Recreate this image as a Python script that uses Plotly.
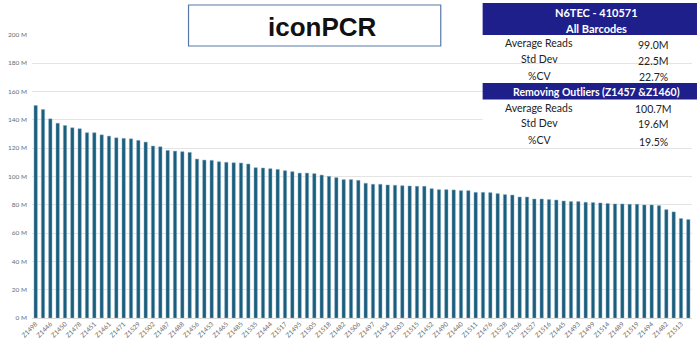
import plotly.graph_objects as go

# ---- data ----
read_counts_m = [
    150.0, 147.2, 140.6, 137.5, 135.9, 134.3, 133.6, 130.8, 130.8, 129.3, 128.4,
    127.2, 126.8, 126.5, 125.4, 124.2, 121.4, 120.9, 118.3, 117.8, 117.4, 116.9,
    112.2, 111.5, 111.3, 110.3, 109.9, 109.6, 109.4, 108.7, 106.1, 105.9, 105.4,
    104.9, 104.0, 103.3, 102.3, 102.3, 101.9, 100.9, 100.0, 99.1, 97.7, 97.7, 97.2,
    95.1, 94.4, 94.4, 93.9, 93.7, 93.4, 93.2, 93.0, 93.0, 91.3, 90.6,
    90.6, 90.4, 89.9, 89.9, 88.7, 88.7, 88.5, 87.8, 87.1, 86.8, 85.4,
    85.4, 84.0, 84.0, 83.6, 83.3, 82.6, 82.2, 82.2, 81.7, 81.5, 81.2, 80.8,
    80.5, 80.5, 80.3, 80.3, 79.8, 79.8, 79.3, 76.5, 74.9, 70.2, 69.5,
]
bar_index = list(range(len(read_counts_m)))

# every other bar is labelled in the reference
tick_labels = [
    "Z1498", "Z1446", "Z1450", "Z1478", "Z1451", "Z1461", "Z1471", "Z1529",
    "Z1502", "Z1487", "Z1488", "Z1456", "Z1453", "Z1465", "Z1485", "Z1535",
    "Z1444", "Z1517", "Z1495", "Z1505", "Z1518", "Z1482", "Z1506", "Z1497",
    "Z1454", "Z1503", "Z1515", "Z1452", "Z1490", "Z1440", "Z1511", "Z1476",
    "Z1528", "Z1536", "Z1527", "Z1516", "Z1445", "Z1493", "Z1499", "Z1514",
    "Z1489", "Z1519", "Z1494", "Z1482", "Z1513",
]
tick_positions = bar_index[::2]

y_ticks = [0, 20, 40, 60, 80, 100, 120, 140, 160, 180, 200]

title_text = "iconPCR"
header1 = ["N6TEC - 410571", "All Barcodes"]
header2 = "Removing Outliers (Z1457 &Z1460)"
stat_names = ["Average Reads", "Std Dev", "%CV"]
stats_all = ["99.0M", "22.5M", "22.7%"]
stats_trim = ["100.7M", "19.6M", "19.5%"]

# ---- layout geometry (pixels) ----
W, H = 700, 354
ML, MR, MT, MB = 30, 8, 34, 36
PW, PH = W - ML - MR, H - MT - MB


def px(x):
    return (x - ML) / PW


def py(y):
    return (H - MB - y) / PH


fig = go.Figure()
fig.add_trace(go.Bar(
    x=bar_index, y=read_counts_m,
    marker=dict(color="#1b5d7d", line=dict(color="#7fa9bf", width=0.5)),
    hoverinfo="y",
))

shapes = []
annotations = []

# title box
shapes.append(dict(type="rect", xref="paper", yref="paper",
                   x0=px(187), x1=px(440), y0=py(46), y1=py(5),
                   line=dict(color="#5878a8", width=1.2), fillcolor="white", layer="above"))
annotations.append(dict(xref="paper", yref="paper", x=px(321), y=py(27),
                        text=f"<b>{title_text}</b>", showarrow=False,
                        font=dict(family="Liberation Sans, Arial", size=26, color="#111111"),
                        xanchor="center", yanchor="middle"))

# table: hide 140M grid line behind table body
shapes.append(dict(type="rect", xref="paper", yref="paper",
                   x0=px(482), x1=px(697), y0=py(140), y1=py(100),
                   line=dict(width=0), fillcolor="white", layer="above"))
navy = "#1f1f8c"
shapes.append(dict(type="rect", xref="paper", yref="paper",
                   x0=px(482), x1=px(697), y0=py(35), y1=py(3),
                   line=dict(width=0), fillcolor=navy, layer="above"))
shapes.append(dict(type="rect", xref="paper", yref="paper",
                   x0=px(482), x1=px(697), y0=py(99.5), y1=py(83),
                   line=dict(width=0), fillcolor=navy, layer="above"))

hfont = dict(family="Lato, Noto Sans, sans-serif", size=11, color="white")
for txt, yy in zip(header1, [12.5, 28.5]):
    annotations.append(dict(xref="paper", yref="paper", x=px(596), y=py(yy),
                            text=f"<b>{txt}</b>", showarrow=False, font=hfont,
                            xanchor="center", yanchor="middle"))
annotations.append(dict(xref="paper", yref="paper", x=px(596), y=py(91.5),
                        text=f"<b>{header2}</b>", showarrow=False,
                        font=dict(family="Lato, Noto Sans, sans-serif", size=10.5, color="white"),
                        xanchor="center", yanchor="middle"))

rfont = dict(family="Lato, Noto Sans, sans-serif", size=10.5, color="#222222")
for name, a, b, y1, y2 in zip(stat_names, stats_all, stats_trim, [43, 59, 75.5], [107.5, 123, 140]):
    for yy, val in [(y1, a), (y2, b)]:
        annotations.append(dict(xref="paper", yref="paper", x=px(539), y=py(yy),
                                text=name, showarrow=False, font=rfont,
                                xanchor="center", yanchor="middle"))
        annotations.append(dict(xref="paper", yref="paper", x=px(653), y=py(yy + 1.5),
                                text=val, showarrow=False, font=rfont,
                                xanchor="center", yanchor="middle"))

fig.update_layout(
    width=W, height=H,
    margin=dict(l=ML, r=MR, t=MT, b=MB, pad=0),
    paper_bgcolor="white", plot_bgcolor="white",
    showlegend=False,
    bargap=0.55,
    shapes=shapes,
    annotations=annotations,
    xaxis=dict(
        range=[-0.5, len(read_counts_m) - 0.5],
        tickmode="array", tickvals=tick_positions, ticktext=tick_labels,
        tickangle=-45, tickfont=dict(family="Lato, Noto Sans, sans-serif", size=6.5, color="#6b6b6b"),
        showgrid=False, zeroline=False, showline=False, ticks="",
    ),
    yaxis=dict(
        range=[0, 200.5],
        tickmode="array", tickvals=y_ticks, ticktext=[f"{v} M" for v in y_ticks],
        tickfont=dict(family="Lato, Noto Sans, sans-serif", size=6.5, color="#6b6b6b"),
        showgrid=True, gridcolor="#e4e4e4", gridwidth=1.3,
        zeroline=True, zerolinecolor="#d9d9d9", zerolinewidth=1.3,
        showline=False, ticks="", ticklabelstandoff=4,
    ),
)

fig.write_html("out.html")
